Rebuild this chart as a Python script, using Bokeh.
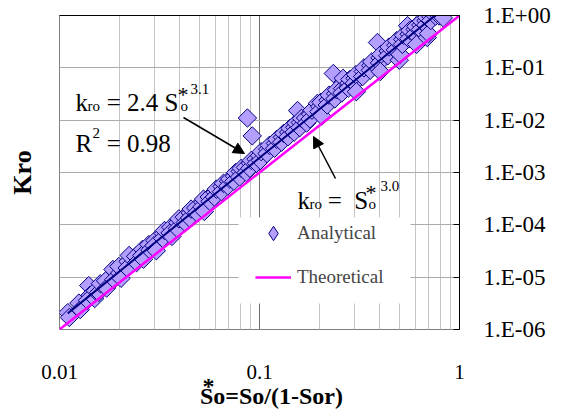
import numpy as np
from bokeh.plotting import figure
from bokeh.models import (LogAxis, FixedTicker, CustomJSTickFormatter, Label, Arrow,
                          NormalHead, Legend, LegendItem, BoxAnnotation, Range1d)
from bokeh.embed import file_html
from bokeh.resources import INLINE

# ---------------- data ----------------
so_analytical = [0.0110, 0.0112, 0.0125, 0.0127, 0.0140, 0.0142, 0.0138, 0.0150, 0.0151, 0.0157,
                 0.0160, 0.0170, 0.0172, 0.0185, 0.0187, 0.0200, 0.0198, 0.0203, 0.0220, 0.0218,
                 0.0223, 0.0240, 0.0243, 0.0260, 0.0258, 0.0263, 0.0280, 0.0283, 0.0300, 0.0297,
                 0.0305, 0.0330, 0.0328, 0.0335, 0.0360, 0.0357, 0.0365, 0.0390, 0.0388, 0.0395,
                 0.0420, 0.0425, 0.0450, 0.0447, 0.0455, 0.0480, 0.0485, 0.0520, 0.0515, 0.0525,
                 0.0530, 0.0560, 0.0565, 0.0600, 0.0595, 0.0608, 0.0650, 0.0645, 0.0660, 0.0700,
                 0.0695, 0.0710, 0.0750, 0.0745, 0.0760, 0.0800, 0.0795, 0.0810, 0.0850, 0.0858,
                 0.0870, 0.0900, 0.0895, 0.0910, 0.0920, 0.0960, 0.0965, 0.100, 0.101, 0.102,
                 0.110, 0.109, 0.112, 0.120, 0.119, 0.122, 0.130, 0.129, 0.132, 0.140,
                 0.139, 0.142, 0.150, 0.149, 0.152, 0.155, 0.160, 0.159, 0.162, 0.170,
                 0.172, 0.180, 0.179, 0.183, 0.195, 0.200, 0.198, 0.203, 0.205, 0.220,
                 0.218, 0.223, 0.234, 0.240, 0.238, 0.243, 0.260, 0.258, 0.262, 0.280,
                 0.278, 0.283, 0.300, 0.298, 0.303, 0.305, 0.330, 0.328, 0.333, 0.360,
                 0.358, 0.364, 0.389, 0.400, 0.398, 0.404, 0.402, 0.440, 0.438, 0.444,
                 0.480, 0.478, 0.485, 0.500, 0.505, 0.520, 0.518, 0.525, 0.550, 0.560,
                 0.558, 0.565, 0.600, 0.598, 0.605, 0.610, 0.640, 0.638, 0.645, 0.680,
                 0.678, 0.685, 0.690, 0.700, 0.720, 0.718, 0.760, 0.790, 0.830]
kro_analytical = [2.1e-6, 1.7e-6, 3.2e-6, 2.4e-6, 6.9e-6, 4.5e-6, 3.6e-6, 3.9e-6, 5.5e-6, 5.1e-6,
                  7.5e-6, 8.5e-6, 6.2e-6, 1.4e-5, 9.0e-6, 1.2e-5, 1.6e-5, 9.5e-6, 2.0e-5, 1.5e-5,
                  2.6e-5, 2.5e-5, 1.9e-5, 3.4e-5, 2.6e-5, 2.2e-5, 4.2e-5, 3.3e-5, 5.0e-5, 4.0e-5,
                  3.2e-5, 6.8e-5, 5.5e-5, 7.8e-5, 9.0e-5, 7.0e-5, 6.0e-5, 1.1e-4, 8.5e-5, 1.3e-4,
                  1.4e-4, 1.1e-4, 1.7e-4, 1.35e-4, 2.0e-4, 2.1e-4, 1.7e-4, 2.7e-4, 2.2e-4, 3.1e-4,
                  1.8e-4, 3.4e-4, 2.8e-4, 4.2e-4, 3.4e-4, 4.8e-4, 5.4e-4, 4.3e-4, 6.2e-4, 6.8e-4,
                  5.5e-4, 7.5e-4, 8.5e-4, 6.8e-4, 1.0e-3, 1.05e-3, 8.2e-4, 1.2e-3, 1.25e-3, 1.0e-3,
                  1.1e-2, 1.5e-3, 1.2e-3, 1.7e-3, 5.0e-3, 1.8e-3, 1.5e-3, 2.1e-3, 1.7e-3, 2.5e-3,
                  2.8e-3, 2.3e-3, 3.3e-3, 3.6e-3, 2.9e-3, 4.3e-3, 4.7e-3, 3.8e-3, 5.6e-3, 5.9e-3,
                  4.8e-3, 7.0e-3, 7.3e-3, 5.9e-3, 8.8e-3, 1.53e-2, 9.0e-3, 7.2e-3, 1.08e-2, 1.1e-2,
                  8.8e-3, 1.3e-2, 1.05e-2, 1.55e-2, 2.1e-2, 1.8e-2, 1.45e-2, 2.2e-2, 1.2e-2, 2.4e-2,
                  1.95e-2, 3.0e-2, 7.8e-2, 3.2e-2, 2.55e-2, 3.8e-2, 4.0e-2, 3.3e-2, 6.3e-2, 5.1e-2,
                  4.1e-2, 6.0e-2, 6.3e-2, 5.1e-2, 7.4e-2, 3.5e-2, 8.5e-2, 6.8e-2, 1.0e-1, 1.1e-1,
                  9.0e-2, 1.3e-1, 3.05e-1, 0.155, 0.125, 0.18, 0.085, 0.21, 0.17, 0.25,
                  0.27, 0.22, 0.33, 0.14, 0.18, 0.35, 0.28, 0.42, 0.64, 0.44,
                  0.36, 0.52, 0.54, 0.44, 0.62, 0.28, 0.66, 0.54, 0.78, 0.80,
                  0.66, 0.92, 0.38, 0.45, 0.95, 0.80, 0.97, 0.98, 0.90]

fit_coef, fit_exp = 2.4, 3.1          # kro = 2.4 So*^3.1 (R^2 = 0.98)
theo_exp = 3.0                        # kro = So*^3.0
theo_so = [0.008, 1.0]

x_ticks = [0.01, 0.1, 1.0]
x_minor = [0.02, 0.03, 0.04, 0.05, 0.06, 0.07, 0.08, 0.09,
           0.2, 0.3, 0.4, 0.5, 0.6, 0.7, 0.8, 0.9]
y_ticks = [1e-6, 1e-5, 1e-4, 1e-3, 1e-2, 1e-1, 1.0]

NB = "\u00a0"
x_title = "*" + NB * 17 + "\n" + NB * 4 + "So=So/(1-Sor)"
y_title = "Kro"

# ---------------- figure ----------------
SERIF = "Liberation Serif"
p = figure(width=565, height=417, x_axis_type="log", y_axis_type="log",
           x_range=Range1d(0.01, 1.0), y_range=Range1d(1e-6, 1.0),
           y_axis_location="right", output_backend="svg", toolbar_location=None,
           min_border_left=59, min_border_right=106, min_border_top=15, min_border_bottom=88)
p.background_fill_color = "white"
p.border_fill_color = "white"
p.outline_line_color = "#808080"

# helpers: page-pixel position -> data coords (frame: x 59..459, y 15..329)
def dx(wx):
    return 10 ** (-2 + (wx - 59) / 200.0)

def dy(wy):
    return 10 ** (-(wy - 15) / 52.333)

# x axis (bottom)
xt = FixedTicker(ticks=x_ticks, minor_ticks=x_minor)
xa = p.xaxis[0]
xa.ticker = xt
xa.formatter = CustomJSTickFormatter(code="return tick >= 1 ? tick.toFixed(0) : String(Number(tick.toPrecision(2)));")
xa.axis_line_color = None
xa.major_tick_line_color = None
xa.minor_tick_line_color = None
xa.major_tick_in = 0
xa.major_tick_out = 0
xa.minor_tick_in = 0
xa.minor_tick_out = 0
xa.major_label_standoff = 35
xa.major_label_text_font = SERIF
xa.major_label_text_font_size = "21px"
xa.major_label_text_color = "black"
xa.axis_label = x_title
xa.axis_label_standoff = -9
xa.axis_label_text_font = SERIF
xa.axis_label_text_font_size = "24px"
xa.axis_label_text_font_style = "bold"
xa.axis_label_text_color = "black"
xa.axis_label_text_line_height = 0.4

# y axis (right)
yt = FixedTicker(ticks=y_ticks)
ya = p.yaxis[0]
ya.ticker = yt
ya.formatter = CustomJSTickFormatter(code="""
const e = Math.round(Math.log10(tick));
const s = e >= 0 ? "+" : "-";
const a = Math.abs(e);
return "1.E" + s + (a < 10 ? "0" : "") + a;
""")
ya.axis_line_color = "black"
ya.major_tick_line_color = "black"
ya.major_tick_in = 6
ya.major_tick_out = 0
ya.minor_tick_line_color = None
ya.minor_tick_in = 0
ya.minor_tick_out = 0
ya.major_label_standoff = 24
ya.major_label_text_font = SERIF
ya.major_label_text_font_size = "23px"
ya.major_label_text_color = "black"

# left axis carrying only the "Kro" title
left = LogAxis(ticker=FixedTicker(ticks=[]), axis_line_color=None,
               major_tick_line_color=None, minor_tick_line_color=None,
               major_tick_in=0, major_tick_out=0, minor_tick_in=0, minor_tick_out=0,
               major_label_text_font_size="0px", major_label_standoff=0,
               axis_label=y_title, axis_label_standoff=23,
               axis_label_text_font=SERIF, axis_label_text_font_size="26px",
               axis_label_text_font_style="bold", axis_label_text_color="black")
p.add_layout(left, "left")

# top border axis
top = LogAxis(ticker=FixedTicker(ticks=[]), axis_line_color="black",
              major_tick_line_color=None, minor_tick_line_color=None,
              major_tick_in=0, major_tick_out=0, minor_tick_in=0, minor_tick_out=0,
              major_label_text_font_size="0px")
p.add_layout(top, "above")

# grids
p.xgrid.ticker = xt
p.xgrid.grid_line_color = "#6E6E6E"
p.xgrid.minor_grid_line_color = "#C4C4C4"
p.ygrid.ticker = yt
p.ygrid.grid_line_color = "#ABABAB"

# legend white backdrop (added before legend)
p.add_layout(BoxAnnotation(left=dx(238), right=dx(410), top=dy(217), bottom=dy(303),
                           fill_color="white", fill_alpha=1.0, line_color=None))

# ---------------- glyphs ----------------
FILL, EDGE = "#B49FFF", "#000080"
sc = p.scatter(so_analytical, kro_analytical, marker="square", size=13, angle=np.pi / 4,
               fill_color=FILL, line_color=EDGE, line_width=1)
# legend swatch: same data, hidden; legend markers are never rotated, so use "diamond"
swatch = p.scatter(so_analytical, kro_analytical, marker="diamond", size=13,
                   fill_color=FILL, line_color=EDGE, line_width=1, visible=False)

fit_so = np.array([min(so_analytical), max(so_analytical)])
p.line(fit_so, fit_coef * fit_so ** fit_exp, line_color=EDGE, line_width=2)

theo_x = np.array(theo_so)
theo = p.line(theo_x, theo_x ** theo_exp, line_color="#FF00FF", line_width=2.5)

legend = Legend(items=[LegendItem(label="Analytical", renderers=[swatch]),
                       LegendItem(label="Theoretical", renderers=[theo])],
                location=(196, 34), orientation="vertical",
                glyph_width=36, glyph_height=36, label_height=36, spacing=8,
                padding=2, margin=0, label_standoff=6,
                label_text_font=SERIF, label_text_font_size="19px",
                border_line_color=None, background_fill_alpha=0.0,
                inactive_fill_alpha=0.0, click_policy="none")
p.add_layout(legend, "center")

# ---------------- annotations ----------------
def lab(wx, wy, text, size, align="left", baseline="alphabetic"):
    p.add_layout(Label(x=dx(wx), y=dy(wy), text=text, text_font=SERIF,
                       text_font_size=f"{size}px", text_align=align,
                       text_baseline=baseline, text_color="black"))

# kro = 2.4 So*^3.1
lab(75, 102, "k", 25)
lab(87, 105, "ro", 15)
lab(100, 102, NB + "=" + NB + "2.4" + NB + "S", 25)
lab(180, 105, "o", 15)
lab(177, 94, "*", 22)
lab(190, 88, "3.1", 15)
# R^2 = 0.98
lab(75, 143, "R", 25)
lab(92, 132, "2", 15)
lab(100, 143, NB + "=" + NB + "0.98", 25)
# kro = So*^3.0
lab(297, 200, "k", 25)
lab(309, 203, "ro", 15)
lab(321, 200, NB + "=" + NB + NB + "S", 25)
lab(368, 203, "o", 15)
lab(365, 192, "*", 22)
lab(380, 185, "3.0", 15)

p.add_layout(Arrow(end=NormalHead(size=11, fill_color="black", line_color="black"),
                   x_start=dx(183), y_start=dy(117), x_end=dx(244), y_end=dy(153),
                   line_color="black", line_width=1.5))
p.add_layout(Arrow(end=NormalHead(size=11, fill_color="black", line_color="black"),
                   x_start=dx(335), y_start=dy(178), x_end=dx(313), y_end=dy(136),
                   line_color="black", line_width=1.5))

open("out.html", "w").write(file_html(p, INLINE))
